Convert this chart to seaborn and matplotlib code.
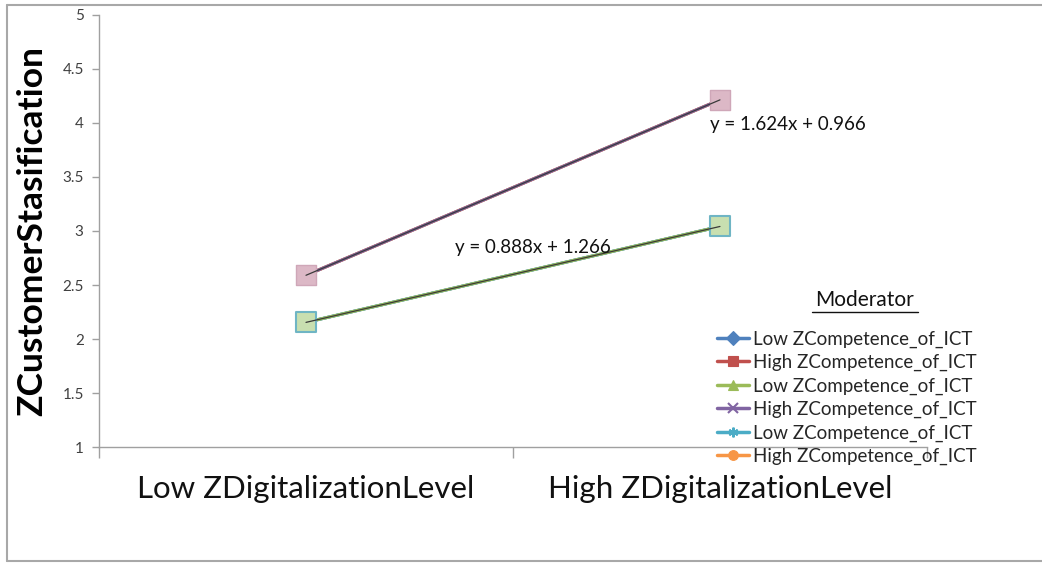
import pandas as pd
import numpy as np
import seaborn as sns
from matplotlib import pyplot as plt
from matplotlib.lines import Line2D

# data
categories = ["Low ZDigitalizationLevel", "High ZDigitalizationLevel"]
low_vals = [2.154, 3.042]
high_vals = [2.590, 4.214]
series_labels = ["Low ZCompetence_of_ICT", "High ZCompetence_of_ICT",
                 "Low ZCompetence_of_ICT", "High ZCompetence_of_ICT",
                 "Low ZCompetence_of_ICT", "High ZCompetence_of_ICT"]
series_colors = ["#4F81BD", "#C0504D", "#9BBB59", "#8064A2", "#4BACC6", "#F79646"]
series_markers = ["D", "s", "^", "x", (6, 2, 0), "o"]
eq_high = "y = 1.624x + 0.966"
eq_low = "y = 0.888x + 1.266"
y_ticks = [1, 1.5, 2, 2.5, 3, 3.5, 4, 4.5, 5]

sns.set_theme(style="white")
plt.rcParams["font.family"] = ["Lato", "DejaVu Sans"]

rows = []
for i, lab in enumerate(series_labels):
    vals = low_vals if lab.startswith("Low") else high_vals
    for j, v in enumerate(vals):
        rows.append({"sid": i, "pos": j, "val": v})
df = pd.DataFrame(rows)

fig = plt.figure(figsize=(10.42, 5.63), dpi=100)
ax = fig.add_axes([0.095, 0.206, 0.7946, 0.7674])

# draw order so that purple / green end up on top like the reference
order = [0, 1, 4, 5, 3, 2]
for i in order:
    d = df[df["sid"] == i]
    sns.lineplot(data=d, x="pos", y="val", color=series_colors[i], lw=2.2,
                 ax=ax, legend=False, zorder=2)

# trendlines (thin dark)
pts = pd.DataFrame({"pos": [0, 1, 0, 1], "val": high_vals + low_vals,
                    "grp": ["high", "high", "low", "low"]})
for g in ["high", "low"]:
    d = pts[pts["grp"] == g]
    ax.plot(d["pos"], d["val"], color="#3a3a3a", lw=0.9, zorder=3)

# pale square markers
sns.scatterplot(data=pts[pts["grp"] == "high"], x="pos", y="val", marker="s", s=200,
                color="#dcb8c6", edgecolor="#cfa7b8", linewidth=1, ax=ax, zorder=2.5)
sns.scatterplot(data=pts[pts["grp"] == "low"], x="pos", y="val", marker="s", s=200,
                color="#c8dfb0", edgecolor="#6fb5c4", linewidth=1.5, ax=ax, zorder=2.5)

ax.set_xlim(-0.5, 1.5)
ax.set_ylim(1, 5)
ax.set_yticks(y_ticks)
ax.set_yticklabels([f"{t:g}" for t in y_ticks], fontsize=11, color="#404040")
ax.set_xticks([-0.5, 0.5, 1.5])
ax.set_xticklabels([])
ax.set_xticks([0, 1], minor=True)
ax.set_xticklabels(categories, minor=True, fontsize=22.5, color="#111111")
ax.tick_params(axis="x", which="minor", length=0, pad=20)
ax.tick_params(axis="x", which="major", length=8, color="#a0a0a0", width=1, direction="out", bottom=True)
ax.tick_params(axis="y", length=5, color="#a0a0a0", width=1, direction="out", left=True, pad=6)
ax.set_xlabel("")
ax.set_ylabel("ZCustomerStasification", fontsize=25.5, fontweight="bold", labelpad=10, color="#000000")
for s in ["top", "right"]:
    ax.spines[s].set_visible(False)
for s in ["left", "bottom"]:
    ax.spines[s].set_color("#a0a0a0")
    ax.spines[s].set_linewidth(1)

ax.text(0.976, 3.99, eq_high, fontsize=13.5, color="#111111", va="center", ha="left")
ax.text(0.36, 2.85, eq_low, fontsize=13.5, color="#111111", va="center", ha="left")

handles = [Line2D([], [], color=c, marker=m, lw=2.5, markersize=7,
                  markeredgewidth=1.5 if m in ["x", (6, 2, 0)] else 0.8)
           for c, m in zip(series_colors, series_markers)]
leg = fig.legend(handles, series_labels, loc="upper left", bbox_to_anchor=(0.688, 0.413),
                 frameon=False, fontsize=13.5, handlelength=1.7, handletextpad=0.2,
                 labelspacing=0.33, borderaxespad=0, borderpad=0)
fig.text(0.830, 0.467, "Moderator", fontsize=15, ha="center", va="center", color="#111111")
fig.add_artist(Line2D([0.779, 0.881], [0.445, 0.445], color="#111111", lw=1,
                      transform=fig.transFigure))

# outer frame
for xs, ys in [([0.007, 0.007], [0.003, 0.991]), ([0.007, 1.0], [0.991, 0.991]),
               ([0.007, 1.0], [0.003, 0.003])]:
    fig.add_artist(Line2D(xs, ys, color="#a8a8a8", lw=1.5, transform=fig.transFigure))

fig.savefig("out.png", dpi=100)
